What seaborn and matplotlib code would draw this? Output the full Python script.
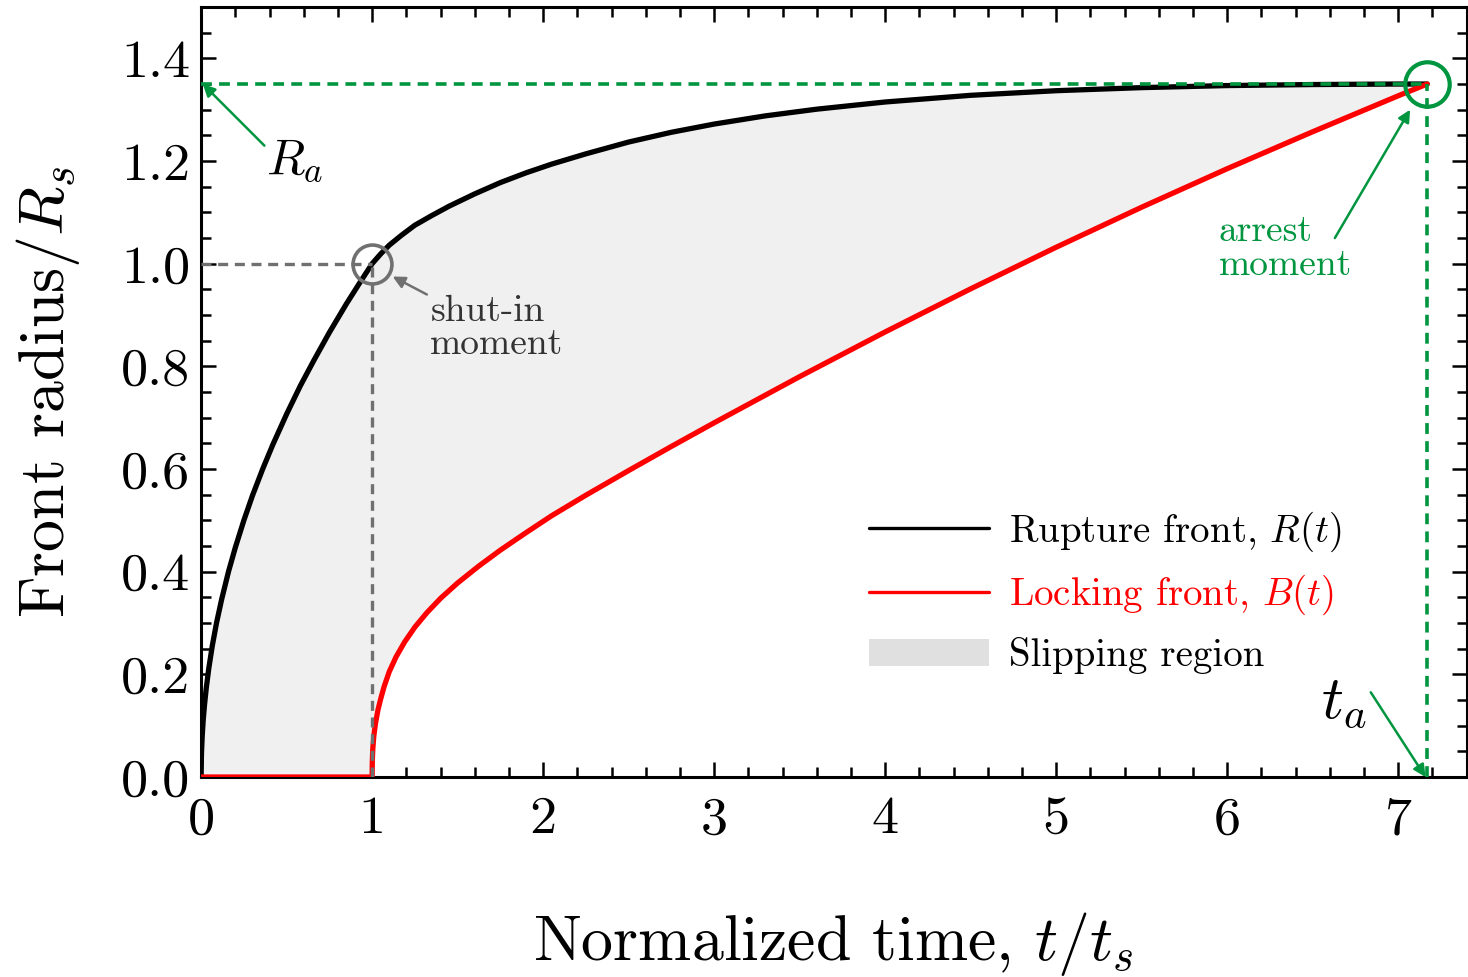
import numpy as np
import matplotlib
matplotlib.use("Agg")
import matplotlib.pyplot as plt
import seaborn as sns
from matplotlib.patches import Patch
from matplotlib.lines import Line2D
from matplotlib.ticker import MultipleLocator

# values
rupture_t = [0, 0.002, 0.006, 0.012, 0.02, 0.03, 0.045, 0.065, 0.09, 0.12, 0.16, 0.2,
             0.25, 0.3, 0.36, 0.42, 0.5, 0.58, 0.66, 0.75, 0.85, 0.93, 1.0, 1.05, 1.1,
             1.17, 1.25, 1.35, 1.45, 1.6, 1.75, 1.9, 2.05, 2.25, 2.5, 2.75, 3.0, 3.3,
             3.6, 4.0, 4.5, 5.0, 5.5, 6.0, 6.5, 7.0, 7.17]
rupture_r = [0, 0.045, 0.077, 0.11, 0.141, 0.173, 0.212, 0.255, 0.3, 0.346, 0.4, 0.447,
             0.5, 0.548, 0.6, 0.648, 0.707, 0.762, 0.812, 0.866, 0.922, 0.964, 1.0, 1.019, 1.036,
             1.055, 1.075, 1.094, 1.112, 1.136, 1.158, 1.177, 1.194, 1.214, 1.237, 1.256, 1.272, 1.288,
             1.301, 1.315, 1.328, 1.337, 1.343, 1.347, 1.349, 1.35, 1.35]

locking_t = [0, 1.0, 1.001, 1.004, 1.01, 1.02, 1.035, 1.05, 1.07, 1.1, 1.14, 1.19, 1.25,
             1.32, 1.4, 1.5, 1.62, 1.75, 1.9, 2.05, 2.25, 2.5, 2.75, 3.0, 3.5, 4.0, 4.5,
             5.0, 5.5, 6.0, 6.5, 7.0, 7.17]
locking_b = [0, 0, 0.03, 0.055, 0.08, 0.105, 0.132, 0.152, 0.176, 0.205, 0.234, 0.263, 0.292,
             0.32, 0.348, 0.378, 0.41, 0.442, 0.476, 0.509, 0.549, 0.597, 0.644, 0.69, 0.78,
             0.867, 0.951, 1.032, 1.11, 1.185, 1.257, 1.327, 1.35]

t_shut, r_shut = 1.0, 1.0
t_arrest, r_arrest = 7.17, 1.35

green = '#00953f'
gray = '#707070'

sns.set_style('ticks')
plt.rcParams['font.family'] = 'serif'
plt.rcParams['font.serif'] = ['cmr10']
plt.rcParams['mathtext.fontset'] = 'cm'
plt.rcParams['axes.formatter.use_mathtext'] = True
plt.rcParams['axes.unicode_minus'] = False
for k in ['text.color', 'axes.labelcolor', 'xtick.color', 'ytick.color', 'axes.edgecolor']:
    plt.rcParams[k] = 'black'

fig = plt.figure(figsize=(7.34, 4.885), dpi=200)
ax = fig.add_axes([0.137, 0.2047, 0.862, 0.7881])

# slipping region between the two fronts
poly_x = list(rupture_t) + list(locking_t[::-1])
poly_y = list(rupture_r) + list(locking_b[::-1])
ax.fill(poly_x, poly_y, color='#f0f0f0', lw=0, zorder=1)

sns.lineplot(x=rupture_t, y=rupture_r, estimator=None, sort=False, color='black', lw=1.9, ax=ax, zorder=3)
sns.lineplot(x=locking_t, y=locking_b, estimator=None, sort=False, color='red', lw=1.9, ax=ax, zorder=3)

# guide lines
ax.plot([0, t_shut], [r_shut, r_shut], ls=(0, (3, 2)), color=gray, lw=1.2, zorder=4)
ax.plot([t_shut, t_shut], [0, r_shut], ls=(0, (3, 2)), color=gray, lw=1.2, zorder=4)
ax.plot([0, t_arrest], [r_arrest, r_arrest], ls=(0, (3, 2)), color=green, lw=1.3, zorder=5)
ax.plot([t_arrest, t_arrest], [0, r_arrest], ls=(0, (3, 2)), color=green, lw=1.3, zorder=5)

ax.plot([t_shut], [r_shut], 'o', ms=14, mfc='none', mec=gray, mew=1.3, zorder=6)
ax.plot([t_arrest], [r_arrest], 'o', ms=16, mfc='none', mec=green, mew=1.5, zorder=6, clip_on=False)

arr = dict(arrowstyle='-|>', lw=0.9, shrinkA=0, shrinkB=0, mutation_scale=9)
ax.annotate('', xy=(0.01, 1.35), xytext=(0.37, 1.23),
            arrowprops=dict(arr, color=green))
ax.text(0.55, 1.20, r'$R_a$', fontsize=18, ha='center', va='center')

ax.annotate('', xy=(1.12, 0.975), xytext=(1.32, 0.94),
            arrowprops=dict(arr, color=gray))
ax.text(1.34, 0.875, 'shut-in\nmoment', fontsize=13.5, color='#333333',
        ha='left', va='center', linespacing=1.0)

ax.annotate('', xy=(7.07, 1.30), xytext=(6.63, 1.05),
            arrowprops=dict(arr, color=green))
ax.text(5.95, 1.03, 'arrest\nmoment', fontsize=13.5, color=green,
        ha='left', va='center', linespacing=1.0)

ax.annotate('', xy=(7.16, 0.0), xytext=(6.84, 0.165),
            arrowprops=dict(arr, color=green))
ax.text(6.68, 0.145, r'$t_a$', fontsize=22, ha='center', va='center')

ax.set_xlim(0, 7.4)
ax.set_ylim(0, 1.5)
ax.xaxis.set_minor_locator(MultipleLocator(0.2))
ax.yaxis.set_minor_locator(MultipleLocator(0.05))
ax.set_xticks(np.arange(0, 8, 1))
ax.set_xticklabels([str(i) for i in range(8)])
ax.set_yticks(np.arange(0, 1.5, 0.2))
ax.set_yticklabels(['%.1f' % v for v in np.arange(0, 1.5, 0.2)])
ax.tick_params(which='both', direction='in', top=True, right=True, labelsize=19.5, colors='black')
ax.tick_params(which='major', length=5.5, width=0.9)
ax.tick_params(which='minor', length=3.6, width=0.9)
ax.tick_params(axis='x', pad=7)
ax.tick_params(axis='y', pad=4)
for s in ax.spines.values():
    s.set_linewidth(1.1)
    s.set_color('black')

ax.set_xlabel(r'Normalized time, $t/t_s$', fontsize=23, labelpad=24)
ax.set_ylabel(r'Front radius$/R_s$', fontsize=23, labelpad=14)

handles = [Line2D([], [], color='black', lw=1.2),
           Line2D([], [], color='red', lw=1.2),
           Patch(facecolor='#e0e0e0', edgecolor='none')]
labels = [r'Rupture front, $R(t)$', r'Locking front, $B(t)$', 'Slipping region']
leg = ax.legend(handles, labels, loc='upper left', bbox_to_anchor=(0.5, 0.393),
                frameon=False, fontsize=14, handlelength=3.1, labelspacing=0.5,
                handletextpad=0.5)
leg.get_texts()[1].set_color('red')

fig.savefig('out.png', dpi=200)
